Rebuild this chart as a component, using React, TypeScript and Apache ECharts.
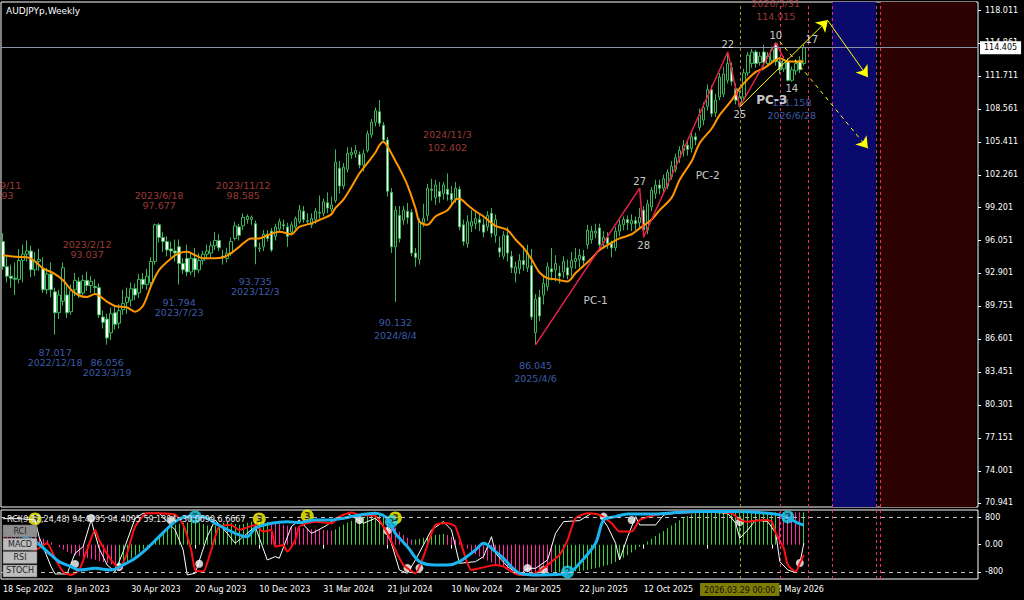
import React, { useEffect, useRef } from 'react';
import * as echarts from 'echarts';

const FONT = "'DejaVu Sans', sans-serif";
const START = Date.UTC(2022, 8, 18);
const SLOTS = 244;

// ---------- weekly candles (bar 0 = week of 18 Sep 2022) ----------
const opens = [
  95.9,93.5,92.6,92.4,92.3,94.1,94.7,95.0,93.2,94.0,
  93.3,91.3,92.8,91.1,89.1,90.2,90.8,89.2,91.3,92.1,
  91.0,92.2,91.7,91.6,91.5,88.7,88.5,87.2,89.1,88.1,
  89.4,90.1,90.3,91.4,91.0,92.3,91.8,92.0,94.0,97.5,
  96.3,95.9,95.2,95.0,95.4,93.8,94.3,93.0,94.3,93.2,
  94.1,94.7,94.8,95.5,96.0,94.5,94.3,94.8,96.2,97.3,
  97.4,98.0,98.0,97.6,95.2,95.4,96.6,96.9,96.4,97.1,
  97.5,97.3,96.8,97.3,97.8,98.8,97.8,97.5,98.0,98.6,
  98.6,99.6,99.0,99.8,102.9,101.2,102.8,104.2,104.3,104.2,
  103.2,104.6,106.1,107.3,108.3,107.0,105.6,100.6,95.4,98.4,
  97.96,98.8,98.7,94.8,94.2,97.7,98.4,100.9,100.1,100.7,
  100.5,100.9,100.5,100.0,100.9,97.5,95.7,97.4,97.6,98.0,
  97.5,97.3,98.6,96.5,95.3,94.5,96.5,94.5,92.9,93.3,
  94.1,93.4,93.6,87.2,90.6,90.8,91.6,93.3,93.2,92.9,
  93.0,93.4,93.4,94.0,94.2,94.5,95.6,96.1,96.7,97.2,
  95.8,96.3,95.7,95.3,96.9,97.5,98.0,97.6,97.9,97.7,
  98.9,97.0,99.2,100.5,101.3,101.0,101.2,102.1,102.8,103.9,
  104.6,105.1,104.8,105.9,106.8,107.5,108.8,110.4,108.2,109.7,
  110.0,111.3,112.5,110.5,108.9,109.7,112.0,112.9,114.0,113.0,
  114.0,112.9,113.2,114.8,113.1,112.4,113.1,111.3,112.2,113.2,
  112.9,
];
const closes = [
  93.5,92.6,92.4,92.3,94.1,94.7,95.0,93.2,94.0,94.2,
  91.3,92.8,91.3,89.1,90.8,93.4,89.1,91.2,92.2,90.9,
  92.2,91.7,92.1,91.5,88.9,88.2,86.7,89.0,88.0,89.3,
  90.0,90.6,91.4,90.8,92.3,91.8,92.6,94.0,97.5,96.3,
  95.9,95.1,95.0,94.8,93.8,93.2,93.0,94.3,93.2,94.1,
  94.7,95.0,95.5,96.0,95.3,94.4,94.8,95.9,97.4,96.5,
  98.2,98.3,98.2,95.4,95.3,96.6,96.2,95.1,97.3,97.8,
  97.4,96.4,97.5,98.1,98.9,98.0,97.9,98.1,98.8,98.7,
  99.7,99.1,99.4,103.5,101.2,103.0,104.3,104.4,104.6,103.2,
  104.3,106.2,107.3,108.4,107.2,105.6,100.7,95.4,98.9,96.2,
  98.9,98.2,94.8,94.4,97.8,98.1,101.0,100.8,101.3,100.2,
  101.3,100.4,99.9,101.0,97.3,95.9,97.8,97.8,98.1,97.7,
  96.8,98.4,96.7,98.0,94.9,96.5,94.8,93.4,93.5,94.1,
  93.7,94.8,88.7,90.4,88.8,91.9,93.5,93.0,93.8,92.6,
  94.0,92.7,94.1,94.3,94.6,94.1,97.0,96.9,96.9,95.6,
  96.3,95.7,95.3,96.9,97.5,98.0,97.7,97.9,97.6,98.2,
  97.0,99.5,100.8,101.3,101.0,101.9,102.5,103.1,103.9,104.6,
  105.1,104.7,105.9,105.6,108.0,108.7,110.4,108.1,109.4,111.6,
  111.9,112.9,111.2,109.4,109.7,112.0,113.7,114.0,112.9,113.6,
  113.0,113.6,114.2,113.1,112.3,113.2,111.3,112.3,112.9,112.3,
  114.405,
];
const lows = [
  93.2,92.0,91.5,90.8,91.9,92.0,94.0,92.5,92.6,93.1,
  91.0,90.9,90.6,87.017,88.5,89.8,88.6,88.9,90.7,90.5,
  90.8,91.2,91.0,90.9,88.6,87.6,86.056,86.5,87.5,87.6,
  88.9,89.0,89.7,90.3,90.5,91.4,91.3,91.7,93.7,95.8,
  94.9,94.5,94.4,94.0,91.794,92.8,92.6,92.7,92.5,92.9,
  93.7,94.2,94.4,95.1,95.0,93.7,93.9,94.5,96.0,96.0,
  97.0,97.6,97.5,93.735,94.9,95.0,95.9,94.9,96.0,96.8,
  97.0,95.4,96.5,97.0,97.6,97.7,97.5,97.2,97.6,98.1,
  98.3,98.6,98.7,99.6,100.5,100.9,102.5,103.8,103.9,102.9,
  102.6,104.4,105.8,106.9,106.9,105.3,100.2,94.8,90.132,95.8,
  97.5,97.6,94.5,93.5,93.7,97.3,97.9,99.8,99.4,99.6,
  99.9,99.8,99.3,99.6,97.0,95.5,95.3,96.8,97.1,96.9,
  96.3,96.9,96.3,95.8,94.4,94.2,94.0,92.9,92.0,92.8,
  93.1,93.0,88.4,86.045,88.3,89.9,91.2,92.2,92.1,91.9,
  92.4,92.3,92.6,93.3,93.4,93.6,95.2,95.7,96.2,95.3,
  95.3,95.2,94.4,95.0,96.4,97.0,97.0,96.9,97.0,97.2,
  96.3,96.6,98.8,100.0,100.4,100.6,100.9,101.8,102.5,103.4,
  104.0,104.1,104.4,105.1,106.5,107.0,108.4,107.8,107.8,109.4,
  109.7,111.0,110.8,109.0,108.75,109.4,111.7,112.5,112.5,112.7,
  112.6,112.6,112.9,112.7,111.9,112.1,111.2,111.158,111.8,112.0,
  112.7,
];
const highs = [
  96.7,94.6,93.7,93.9,95.2,95.6,96.0,95.5,94.9,95.2,
  94.4,93.4,93.9,91.5,91.3,93.9,91.7,91.8,92.9,92.5,
  92.7,93.037,92.6,92.3,91.9,89.3,89.0,89.6,89.8,89.9,
  91.3,91.5,92.0,91.9,92.8,92.9,93.3,94.4,97.6,97.677,
  96.8,96.4,95.9,96.1,96.1,94.3,95.6,94.9,95.3,94.8,
  95.0,95.6,95.9,96.8,96.6,95.1,95.3,96.3,97.8,97.6,
  98.585,98.5,98.4,97.9,95.8,97.0,97.0,97.2,97.6,98.1,
  98.0,97.7,97.8,98.3,99.4,99.3,98.6,98.6,99.1,100.3,
  100.0,100.6,100.2,104.7,103.6,103.4,104.9,104.9,105.1,104.5,
  104.7,106.5,107.6,108.7,109.42,107.3,105.9,101.0,99.3,99.3,
  99.3,99.6,99.0,95.3,98.1,99.5,101.4,101.9,101.8,101.6,
  101.6,102.402,101.2,101.6,101.2,98.0,98.4,98.9,98.7,98.6,
  98.1,98.8,99.1,98.5,96.4,96.9,97.3,95.0,94.0,94.7,
  95.5,95.6,95.2,90.9,91.3,92.5,93.9,95.3,94.6,93.6,
  94.5,94.2,94.9,95.3,95.2,95.1,97.5,97.4,97.6,97.6,
  96.9,96.8,96.0,97.3,98.0,98.3,98.4,98.5,98.3,99.1,
  99.3,99.9,101.1,101.8,101.8,102.3,102.8,103.6,104.3,105.0,
  105.6,105.5,106.5,106.3,108.6,109.2,110.9,110.8,110.0,112.0,
  112.6,114.0,113.0,111.0,110.3,112.4,114.0,114.3,114.2,114.0,
  114.7,114.0,114.5,114.915,113.5,113.6,113.4,112.6,113.3,113.6,
  114.7,
];

// ---------- moving average ----------
const maBars = [0,3,6,8,10,13,15,17,19,21,23,26,28,31,33,35,37,39,42,44,46,48,50,53,55,57,59,62,64,66,69,72,74,77,79,82,83,85,87,89,91,93,94,95,96,98,99,101,103,104,106,108,111,113,114,116,118,120,123,126,128,130,132,134,136,138,141,143,145,147,149,152,154,157,159,162,164,167,169,172,174,177,179,182,183,185,188,190,193,194,196,198,200];
const maValues = [94.6,94.45,94.4,94.0,93.35,92.8,92.2,91.3,90.75,90.6,90.9,90.15,89.75,89.6,89.2,89.8,91.7,93.2,94.3,94.8,94.94,94.6,94.3,94.3,94.4,94.8,95.4,96.2,96.2,96.5,96.85,96.6,97.3,97.64,97.96,98.5,99.1,99.9,101.1,102.4,103.4,104.4,105.1,105.44,105.0,103.6,102.9,101.3,99.1,97.8,97.5,98.3,98.9,99.9,100.0,99.4,98.8,98.3,97.4,97.0,96.1,95.3,94.2,92.95,92.4,92.3,92.1,92.9,93.6,94.3,95.1,95.8,96.2,96.6,97.16,98.0,98.9,100.1,101.8,103.6,105.3,106.7,108.0,109.4,110.0,111.0,112.1,112.44,113.25,113.4,113.1,113.1,113.1];

// ---------- price axis ----------
const priceTicks = [118.011,114.861,111.711,108.561,105.411,102.261,99.201,96.051,92.901,89.751,86.601,83.451,80.301,77.151,74.001,70.941];
const priceMin = 70.559;
const priceMax = 118.775;
const lastPrice = 114.405;

// ---------- swing labels ----------
const highBars = [0, 21, 39, 60, 111, 193];
const highDates = ['2022/9/11','2023/2/12','2023/6/18','2023/11/12','2024/11/3','2026/5/31'];
const highPrices = [98.593, 93.037, 97.677, 98.585, 102.402, 114.915];
const lowBars = [13, 26, 44, 63, 98, 133, 197];
const lowDates = ['2022/12/18','2023/3/19','2023/7/23','2023/12/3','2024/8/4','2025/4/6','2026/6/28'];
const lowPrices = [87.017, 86.056, 91.794, 93.735, 90.132, 86.045, 111.158];

// ---------- wave lines ----------
const zigBars = [133, 159, 160, 181, 184, 193, 195];
const zigPrices = [86.045, 101.0, 96.34, 114.0, 108.75, 114.9, 113.4];
const waveTexts = ['27','28','22','25','10','14','17','PC-1','PC-2','PC-3'];
const waveBars = [159, 160, 181, 184, 193, 197, 202, 148, 176, 192];
const wavePrices = [101.59, 95.48, 114.67, 108.08, 115.62, 110.47, 115.15, 90.32, 102.26, 109.42];
const arrowFromBars = [184, 206, 194];
const arrowFromPrices = [108.75, 117.0, 115.0];
const arrowToBars = [206, 216, 216];
const arrowToPrices = [117.06, 111.6, 104.8];

// ---------- zones & vertical lines ----------
const blueZone = [207, 218];
const redZone = [219, 243];
const crossBar = 184;
const crossText = '2026.03.29 00:00';
const redLineBars = [194, 201, 218, 219];
const magentaLineBar = 207;

// ---------- time axis ----------
const tickBars = [0,16,32,48,64,80,96,112,128,144,160,176,192];
const tickLabels = ['18 Sep 2022','8 Jan 2023','30 Apr 2023','20 Aug 2023','10 Dec 2023','31 Mar 2024','21 Jul 2024','10 Nov 2024','2 Mar 2025','22 Jun 2025','12 Oct 2025','1 Feb 2026','24 May 2026'];

// ---------- oscillator panel ----------
const oscTicks = [800, 0, -800];
const whiteBars = [0,4,8,9,12,13,16,18,20,22,24,26,28,30,33,35,39,43,45,46,48,51,53,56,58,60,63,66,68,69,72,74,77,78,81,83,86,88,90,93,95,97,99,101,103,107,110,112,114,118,120,122,123,126,129,131,133,136,138,140,144,147,149,151,153,154,156,158,159,163,165,168,174,181,183,184,186,188,191,193,194,196,198,199,200];
const whiteValues = [760,760,722,234,-643,-857,-857,-253,-58,722,-107,-594,-789,-204,771,917,917,430,-156,-887,-838,234,722,332,39,234,527,-448,-351,-399,527,722,332,381,576,771,917,771,624,771,527,39,-741,-838,-448,430,673,430,-546,-497,-351,234,-253,-643,-887,-692,-692,-448,332,673,703,917,868,527,39,-448,234,819,576,576,868,917,966,917,624,186,430,722,673,332,-497,-741,-818,-546,39];
const redBars = [0,8,11,13,15,17,19,21,23,24,27,29,31,33,36,39,43,45,47,48,50,52,54,57,59,63,65,67,68,70,71,73,74,78,82,84,87,89,93,96,98,100,103,105,108,111,113,117,119,123,125,127,129,133,136,139,141,143,146,149,152,154,157,159,163,166,171,176,182,184,186,190,192,193,195,196,198,199,200];
const redValues = [200,-156,39,-399,-789,-887,-741,-156,430,137,-448,-692,-253,527,917,917,868,576,-156,-741,-789,-156,527,576,430,576,381,430,-58,-10,-204,137,527,673,624,819,937,868,839,332,-156,-594,-838,-351,576,624,527,-741,-692,-594,-643,-789,-887,-838,-594,-302,137,771,917,868,624,381,381,722,868,917,937,966,917,722,673,722,673,332,-107,-594,-789,-546,-302];
const cyanBars = [0,8,12,14,17,19,23,27,30,33,36,39,43,46,50,53,58,61,63,67,71,74,78,82,85,89,93,96,98,101,104,108,111,114,118,120,123,125,127,129,134,141,144,148,150,153,156,163,168,174,183,189,194,197,199,200];
const cyanValues = [450,88,-302,-497,-643,-741,-692,-741,-594,-399,-107,234,673,819,819,624,332,234,478,624,673,644,722,722,771,868,917,771,332,-58,-497,-594,-594,-497,-156,39,-205,-400,-650,-838,-887,-838,-546,39,722,819,898,898,937,966,966,937,868,722,605,576];
const macdHist = [
  350,340,330,320,310,300,290,270,250,220,180,130,70,
  0,-80,-150,-210,-260,-300,-330,-360,-390,-420,-450,-480,-510,-540,-570,-600,
  -580,-540,-480,-400,-320,-230,-130,-30,
  80,190,300,400,480,540,590,620,640,650,655,660,
  640,600,560,540,560,600,640,660,640,600,580,600,640,680,700,690,680,660,
  640,620,600,580,560,540,520,500,480,470,460,450,440,430,420,410,
  450,520,590,650,700,740,780,810,840,860,880,890,900,
  800,650,500,380,280,200,150,
  150,170,200,230,260,280,300,310,
  280,220,150,70,-20,-110,-200,
  -280,-350,-410,-470,-520,-570,
  -600,-650,-700,-740,-770,-790,-800,-810,-820,-830,-830,-830,-820,-810,
  -800,-800,-790,-785,-780,-780,
  -780,-760,-740,-715,-690,-660,-630,-600,-560,-510,-450,-380,-310,-230,-150,-70,10,
  90,170,250,330,400,480,560,640,710,780,840,890,930,
  950,950,950,950,950,950,950,950,950,950,950,950,950,950,950,950,950,950,950,950,
  950,950,950,950,950,950,
  950,
];
const histRuns: [number, string][] = [[29,'m'],[38,'g'],[16,'m'],[13,'g'],[7,'m'],[8,'g'],[27,'m'],[56,'g'],[6,'m'],[1,'g']];
const dotBars = [18,22,29,42,49,89,96,101,104,131,135,150,157,184,199];
const dotValues = [-564,780,-652,722,-560,722,400,-681,-681,-681,-740,820,722,664,-535];
const yellowBars = [8, 64, 76, 98];
const yellowValues = [751, 751, 839, 780];
const cyanMarkBars = [48, 97, 141, 196];
const cyanMarkValues = [810, 672, -798, 810];
const oscCaption = 'RCI(9,12,24,48) 94.4095 94.4095 59.1304 -30.0699 6.6667';
const panelButtons = ['RCI', 'MACD', 'RSI', 'STOCH'];

// ---------- colours ----------
const CANDLE_GREEN = '#3cb45a';
const HIGH_RED = '#c44a44';
const LOW_BLUE = '#4c74d8';
const DASH_RED = '#f03060';
const HIST_GREEN = '#38d038';
const HIST_MAGENTA = '#ff2aa0';

function buildOption(): any {
  const cats = Array.from({ length: SLOTS }, (_, i) => {
    const d = new Date(START + i * 7 * 86400000);
    return `${d.getUTCFullYear()}.${String(d.getUTCMonth() + 1).padStart(2, '0')}.${String(d.getUTCDate()).padStart(2, '0')}`;
  });
  const candles = opens.map((o, i) => [o, closes[i], lows[i], highs[i]]);
  const histColors: string[] = [];
  histRuns.forEach(([n, c]) => { for (let k = 0; k < n; k++) histColors.push(c === 'g' ? HIST_GREEN : HIST_MAGENTA); });

  const highGap = [12, 12, 12, 12, 19, 19];
  const highLine = [10, 10, 10, 10, 13, 13];
  const highShift = [-6, 0, 0, 0, 0, 0];
  const lowGap = [12, 12, 12, 12, 14, 14, 14];
  const lowLine = [10, 10, 10, 10, 13, 13, 13];

  const vLine = (bar: number, color: string) => ({ xAxis: bar, lineStyle: { color, type: [3, 3], width: 1 } });
  const verticals = [
    vLine(crossBar, '#9a9a28'),
    ...redLineBars.map((b) => vLine(b, DASH_RED)),
    vLine(magentaLineBar, '#e0307a'),
  ];
  const hiddenCat = (gridIndex: number) => ({ type: 'category', gridIndex, data: cats, boundaryGap: true, axisLine: { show: false }, axisTick: { show: false }, axisLabel: { show: false }, splitLine: { show: false } });

  return {
    animation: false,
    backgroundColor: '#000000',
    title: {
      text: 'AUDJPYp,Weekly', left: 6, top: 6, padding: 0,
      textStyle: { color: '#ffffff', fontSize: 9, fontWeight: 'normal', fontFamily: FONT },
    },
    grid: [
      { left: 1, top: 2, width: 977, height: 505, show: true, borderColor: '#ffffff', borderWidth: 1, backgroundColor: '#000000' },
      { left: 1, top: 510, width: 977, height: 69, show: true, borderColor: '#ffffff', borderWidth: 1, backgroundColor: '#000000' },
      { left: 1.5, top: 510, width: 976, height: 69, show: false },
    ],
    xAxis: [
      hiddenCat(0),
      {
        type: 'category', gridIndex: 1, data: cats, boundaryGap: true,
        axisLine: { show: false },
        axisTick: { show: true, alignWithLabel: true, length: 4, interval: (i: number) => tickBars.includes(i), lineStyle: { color: '#ffffff' } },
        axisLabel: {
          show: true, interval: (i: number) => tickBars.includes(i), align: 'left', margin: 6,
          formatter: (_v: string, i: number) => tickLabels[tickBars.indexOf(i)] || '',
          color: '#ffffff', fontSize: 8, fontFamily: FONT,
        },
        splitLine: { show: false },
      },
      hiddenCat(2),
    ],
    yAxis: [
      {
        type: 'value', gridIndex: 0, position: 'right', min: priceMin, max: priceMax,
        splitLine: { show: false }, axisLine: { show: false },
        axisTick: { show: true, length: 3, customValues: priceTicks, lineStyle: { color: '#ffffff' } },
        axisLabel: { customValues: priceTicks, formatter: (v: number) => v.toFixed(3), color: '#ffffff', fontSize: 8, fontFamily: FONT, margin: 7 },
      },
      {
        type: 'value', gridIndex: 1, position: 'right', min: -1005, max: 1013,
        splitLine: { show: false }, axisLine: { show: false },
        axisTick: { show: true, length: 3, customValues: oscTicks, lineStyle: { color: '#ffffff' } },
        axisLabel: { customValues: oscTicks, formatter: (v: number) => (v === 0 ? '0.00' : String(v)), color: '#ffffff', fontSize: 8, fontFamily: FONT, margin: 7 },
      },
      { type: 'value', gridIndex: 2, min: -1005, max: 1013, show: false, splitLine: { show: false } },
    ],
    graphic: [
      { type: 'text', z: 100, x: 7, y: 519, style: { text: oscCaption, fill: '#e6e6e6', fontSize: 8, fontFamily: FONT, verticalAlign: 'middle' } },
      ...panelButtons.flatMap((t, i) => [
        { type: 'rect', z: 100, shape: { x: 3, y: 525 + i * 13.3, width: 34, height: 12 }, style: { fill: i === 0 ? '#8e8e8e' : '#bcbcbc', stroke: '#6a6a6a', lineWidth: 0.5 } },
        { type: 'text', z: 101, x: 20, y: 531 + i * 13.3, style: { text: t, fill: '#1e1e1e', fontSize: 8, fontFamily: FONT, align: 'center', verticalAlign: 'middle' } },
      ]),
    ],
    series: [
      {
        type: 'candlestick', xAxisIndex: 0, yAxisIndex: 0, data: candles, barWidth: 3,
        itemStyle: { color: '#000000', color0: '#ffffff', borderColor: CANDLE_GREEN, borderColor0: CANDLE_GREEN, borderWidth: 1 },
        markArea: {
          silent: true,
          data: [
            [{ xAxis: blueZone[0], itemStyle: { color: '#0a0a6c' } }, { xAxis: blueZone[1] }],
            [{ xAxis: redZone[0], itemStyle: { color: '#2d0202' } }, { xAxis: redZone[1] }],
          ],
        },
        markLine: {
          silent: true, symbol: 'none', animation: false, label: { show: false },
          data: [
            ...verticals,
            {
              yAxis: lastPrice, lineStyle: { color: '#8a94a6', type: 'solid', width: 1 },
              label: { show: true, position: 'end', distance: 2, formatter: lastPrice.toFixed(3), backgroundColor: '#ffffff', color: '#000000', padding: [3, 4, 2, 4], fontSize: 8, fontFamily: FONT },
            },
          ],
        },
      },
      {
        type: 'line', xAxisIndex: 0, yAxisIndex: 0, name: 'MA',
        data: maBars.map((b, i) => [b, maValues[i]]), smooth: 0.3, symbol: 'none',
        lineStyle: { color: '#ff9600', width: 2 },
      },
      {
        type: 'line', xAxisIndex: 0, yAxisIndex: 0, name: 'waves',
        data: zigBars.map((b, i) => [b, zigPrices[i]]), symbol: 'none',
        lineStyle: { color: '#e8204a', width: 1.5 },
        markLine: {
          silent: true, symbol: ['none', 'arrow'], symbolSize: 11, label: { show: false },
          data: arrowFromBars.map((b, i) => [
            { coord: [b, arrowFromPrices[i]], lineStyle: { color: '#ffff00', width: 1, type: i === 2 ? [4, 4] : 'solid' }, itemStyle: { color: '#ffff00' } },
            { coord: [arrowToBars[i], arrowToPrices[i]] },
          ]),
        },
      },
      {
        type: 'scatter', xAxisIndex: 0, yAxisIndex: 0, symbolSize: 1, itemStyle: { color: 'rgba(0,0,0,0)' },
        data: highBars.map((b, i) => ({
          value: [b, highPrices[i]],
          label: {
            show: true, position: 'top', distance: highGap[i], offset: [highShift[i], 0],
            formatter: `{d|${highDates[i]}}\n{p|${highPrices[i].toFixed(3)}}`,
            rich: {
              d: { color: HIGH_RED, fontSize: 9.5, fontFamily: FONT, lineHeight: highLine[i], align: 'center' },
              p: { color: HIGH_RED, fontSize: 9.5, fontFamily: FONT, lineHeight: highLine[i], align: 'center' },
            },
          },
        })),
      },
      {
        type: 'scatter', xAxisIndex: 0, yAxisIndex: 0, symbolSize: 1, itemStyle: { color: 'rgba(0,0,0,0)' },
        data: lowBars.map((b, i) => ({
          value: [b, lowPrices[i]],
          label: {
            show: true, position: 'bottom', distance: lowGap[i],
            formatter: `{p|${lowPrices[i].toFixed(3)}}\n{d|${lowDates[i]}}`,
            rich: {
              d: { color: LOW_BLUE, fontSize: 9.5, fontFamily: FONT, lineHeight: lowLine[i], align: 'center' },
              p: { color: LOW_BLUE, fontSize: 9.5, fontFamily: FONT, lineHeight: lowLine[i], align: 'center' },
            },
          },
        })),
      },
      {
        type: 'scatter', xAxisIndex: 0, yAxisIndex: 0, symbolSize: 1, itemStyle: { color: 'rgba(0,0,0,0)' }, z: 5,
        data: waveBars.map((b, i) => ({
          value: [b, wavePrices[i]],
          label: {
            show: true, position: 'inside', formatter: waveTexts[i], color: '#ffffff', fontFamily: FONT,
            fontSize: waveTexts[i] === 'PC-3' ? 12 : waveTexts[i].startsWith('PC') ? 10.5 : 10,
            fontWeight: waveTexts[i] === 'PC-3' ? 'bold' : 'normal',
          },
        })),
      },
      // ---- oscillator panel ----
      {
        type: 'bar', xAxisIndex: 2, yAxisIndex: 2, barWidth: 1, large: false,
        itemStyle: { color: (p: any) => histColors[p.dataIndex], opacity: 1 },
        data: macdHist,
      },
      {
        type: 'line', xAxisIndex: 1, yAxisIndex: 1, data: whiteBars.map((b, i) => [b, whiteValues[i]]), symbol: 'none', lineStyle: { color: '#ffffff', width: 1 },
        markLine: {
          silent: true, symbol: 'none', label: { show: false },
          data: [
            { yAxis: 800, lineStyle: { color: '#bdbdbd', type: [4, 4], width: 1 } },
            { yAxis: -800, lineStyle: { color: '#bdbdbd', type: [4, 4], width: 1 } },
            {
              xAxis: crossBar, lineStyle: { color: '#9a9a28', type: [3, 3], width: 1 },
              label: { show: true, position: 'start', distance: 4, formatter: crossText, backgroundColor: '#7c7c06', color: '#111100', padding: [3, 4, 2, 4], fontSize: 8, fontFamily: FONT },
            },
            ...redLineBars.map((b) => vLine(b, DASH_RED)),
            vLine(magentaLineBar, '#e0307a'),
          ],
        },
      },
      { type: 'line', xAxisIndex: 1, yAxisIndex: 1, data: redBars.map((b, i) => [b, redValues[i]]), symbol: 'none', smooth: 0.2, lineStyle: { color: '#ff1010', width: 2 } },
      { type: 'line', xAxisIndex: 1, yAxisIndex: 1, data: cyanBars.map((b, i) => [b, cyanValues[i]]), symbol: 'none', smooth: 0.3, lineStyle: { color: '#1ab4f0', width: 3 } },
      { type: 'scatter', xAxisIndex: 1, yAxisIndex: 1, symbolSize: 8, itemStyle: { color: '#ffffff' }, data: dotBars.map((b, i) => [b, dotValues[i]]) },
      {
        type: 'scatter', xAxisIndex: 1, yAxisIndex: 1, symbolSize: 13, itemStyle: { color: '#ffff00' },
        label: { show: true, position: 'inside', formatter: '3', color: '#000000', fontSize: 9, fontWeight: 'bold', fontFamily: FONT },
        data: yellowBars.map((b, i) => [b, yellowValues[i]]),
      },
      {
        type: 'scatter', xAxisIndex: 1, yAxisIndex: 1, symbolSize: 13, itemStyle: { color: '#22d8ee' },
        label: { show: true, position: 'inside', formatter: '2', color: '#003040', fontSize: 9, fontWeight: 'bold', fontFamily: FONT },
        data: cyanMarkBars.map((b, i) => [b, cyanMarkValues[i]]),
      },
    ],
  };
}

export default function App() {
  const ref = useRef<HTMLDivElement>(null);
  useEffect(() => {
    if (!ref.current) return;
    const chart = echarts.init(ref.current, undefined, { renderer: 'svg' });
    chart.setOption(buildOption());
    return () => chart.dispose();
  }, []);
  return <div ref={ref} style={{ position: 'fixed', left: 0, top: 0, width: 1024, height: 600, background: '#000' }} />;
}
